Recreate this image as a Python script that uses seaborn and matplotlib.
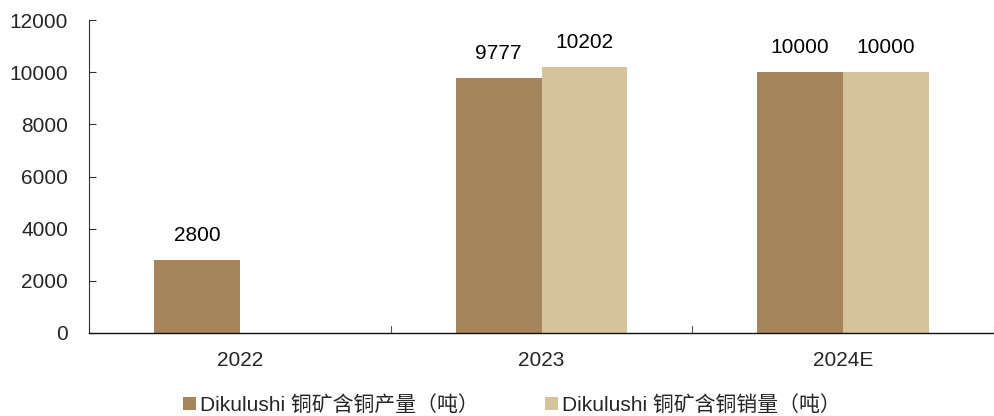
import numpy as np
import pandas as pd
import matplotlib
matplotlib.use("Agg")
import matplotlib.pyplot as plt
import seaborn as sns

categories = ["2022", "2023", "2024E"]
series_names = ["Dikulushi 铜矿含铜产量（吨）", "Dikulushi 铜矿含铜销量（吨）"]
production = [2800, 9777, 10000]
sales = [np.nan, 10202, 10000]
yticks = [0, 2000, 4000, 6000, 8000, 10000, 12000]
colors = ["#A6845C", "#D5C49B"]

sns.set_theme(style="white")
plt.rcParams["font.family"] = ["Liberation Sans", "Noto Sans CJK SC"]

df = pd.DataFrame({
    "year": categories * 2,
    "series": [series_names[0]] * 3 + [series_names[1]] * 3,
    "value": production + sales,
})

fig = plt.figure(figsize=(9.95, 4.16), dpi=100)
ax = fig.add_axes([89 / 995, 1 - 333 / 416, (994 - 89) / 995, (333 - 20) / 416])

sns.barplot(data=df, x="year", y="value", hue="series", order=categories,
            hue_order=series_names, palette=colors, width=0.57, gap=0,
            saturation=1, ax=ax, errorbar=None, legend=True,
            edgecolor="none", linewidth=0)

for container in ax.containers:
    for patch in container.patches:
        v = patch.get_height()
        if v is None or np.isnan(v) or v == 0:
            continue
        ax.annotate(f"{v:.0f}", (patch.get_x() + patch.get_width() / 2, v),
                    xytext=(0, 11), textcoords="offset points",
                    ha="center", va="bottom", fontsize=15, color="black")

ax.set_ylim(0, 12000)
ax.set_yticks(yticks)
ax.set_yticklabels([str(t) for t in yticks], fontsize=15)
ax.set_xlim(-0.5, 2.5)
ax.set_xticks(range(len(categories)))
ax.set_xticklabels(categories, fontsize=15)
ax.tick_params(axis="x", length=0, pad=13)
ax.tick_params(axis="y", direction="in", length=5, width=0.8, color="#333333", pad=15, left=True)
for b in [-0.5, 0.5, 1.5, 2.5]:
    ax.plot([b, b], [0, 250], color="#555555", lw=0.8, clip_on=False)

ax.set_xlabel("")
ax.set_ylabel("")
for s in ["top", "right"]:
    ax.spines[s].set_visible(False)
ax.spines["left"].set_color("#333333")
ax.spines["bottom"].set_color("#111111")
ax.spines["left"].set_linewidth(0.8)
ax.spines["bottom"].set_linewidth(1.0)

handles, labels = ax.get_legend_handles_labels()
ax.legend_.remove()
fig.legend(handles, labels, loc="center", bbox_to_anchor=(512 / 995, 1 - 405 / 416),
           ncol=2, frameon=False, fontsize=15, handlelength=0.6, handleheight=0.6,
           handletextpad=0.2, columnspacing=3.2)

fig.savefig("out.png", dpi=100)
